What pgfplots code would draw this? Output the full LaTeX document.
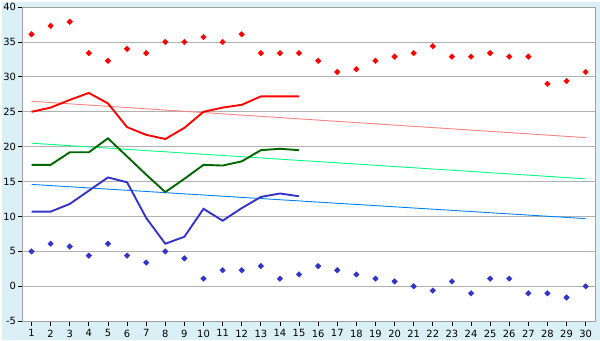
\documentclass[border=0pt]{standalone}
\usepackage{pgfplots}
\pgfplotsset{compat=1.18}
\usepackage{fontspec}
\setmainfont{DejaVu Sans}
\definecolor{bgblue}{RGB}{218,239,246}
\definecolor{gridgray}{RGB}{176,176,176}
\definecolor{axgray}{RGB}{160,160,160}
\definecolor{redmain}{RGB}{255,0,0}
\definecolor{redtrend}{RGB}{255,128,128}
\definecolor{greenmain}{RGB}{0,102,0}
\definecolor{greentrend}{RGB}{0,255,128}
\definecolor{bluemain}{RGB}{51,51,204}
\definecolor{bluetrend}{RGB}{0,128,255}
\begin{document}
\begin{tikzpicture}
\fill[bgblue] (0,0) rectangle (600bp,340bp);
\begin{axis}[
  at={(20.7bp,19.3bp)}, anchor=south west,
  scale only axis, width=574.5bp, height=315.4bp,
  xmin=0.55, xmax=30.5, ymin=-5, ymax=40,
  xtick={1,...,30}, ytick={-5,0,...,40},
  axis background/.style={fill=white},
  axis line style={axgray, line width=1bp},
  ymajorgrids, grid style={gridgray, line width=0.9bp},
  tick align=outside, major tick length=4.5bp,
  xtick pos=bottom, ytick pos=left,
  tick style={black, line width=0.8bp},
  ticklabel style={font=\fontsize{10}{11}\selectfont},
  /pgf/number format/assume math mode=true,
  yticklabel style={xshift=1bp},
  xticklabel style={yshift=-0.5bp},
  clip=false,
]
% trends
\addplot[redtrend, line width=0.9bp] coordinates {(1,26.5) (30,21.3)};
\addplot[greentrend, line width=0.9bp] coordinates {(1,20.5) (30,15.4)};
\addplot[bluetrend, line width=0.9bp] coordinates {(1,14.6) (30,9.7)};
% main lines
\addplot[redmain, line width=1.9bp] coordinates {
(1,25.0) (2,25.6) (3,26.7) (4,27.7) (5,26.2) (6,22.8) (7,21.7) (8,21.1) (9,22.7) (10,25.0)
(11,25.6) (12,26.0) (13,27.2) (14,27.2) (15,27.2)};
\addplot[greenmain, line width=1.9bp] coordinates {
(1,17.4) (2,17.4) (3,19.2) (4,19.2) (5,21.2) (6,18.6) (7,16.0) (8,13.5) (9,15.4) (10,17.4)
(11,17.3) (12,17.9) (13,19.5) (14,19.7) (15,19.5)};
\addplot[bluemain, line width=1.9bp] coordinates {
(1,10.7) (2,10.7) (3,11.8) (4,13.7) (5,15.6) (6,14.9) (7,9.8) (8,6.1) (9,7.1) (10,11.1)
(11,9.4) (12,11.2) (13,12.8) (14,13.3) (15,12.9)};
% max points
\addplot[only marks, mark=diamond*, mark size=2.8bp, mark options={xscale=1.33}, redmain] coordinates {
(1,36.1) (2,37.3) (3,37.9) (4,33.4) (5,32.3) (6,34.0) (7,33.4) (8,35.0) (9,35.0) (10,35.7)
(11,35.0) (12,36.1) (13,33.4) (14,33.4) (15,33.4) (16,32.3) (17,30.7) (18,31.1) (19,32.3) (20,32.9)
(21,33.4) (22,34.4) (23,32.9) (24,32.9) (25,33.4) (26,32.9) (27,32.9) (28,29.0) (29,29.4) (30,30.7)};
% min points
\addplot[only marks, mark=diamond*, mark size=2.8bp, mark options={xscale=1.33}, bluemain] coordinates {
(1,5.0) (2,6.1) (3,5.7) (4,4.4) (5,6.1) (6,4.4) (7,3.4) (8,5.0) (9,4.0) (10,1.1)
(11,2.3) (12,2.3) (13,2.9) (14,1.1) (15,1.7) (16,2.9) (17,2.3) (18,1.7) (19,1.1) (20,0.7)
(21,0.0) (22,-0.6) (23,0.7) (24,-1.0) (25,1.1) (26,1.1) (27,-1.0) (28,-1.0) (29,-1.6) (30,0.0)};
\end{axis}
\end{tikzpicture}
\end{document}
